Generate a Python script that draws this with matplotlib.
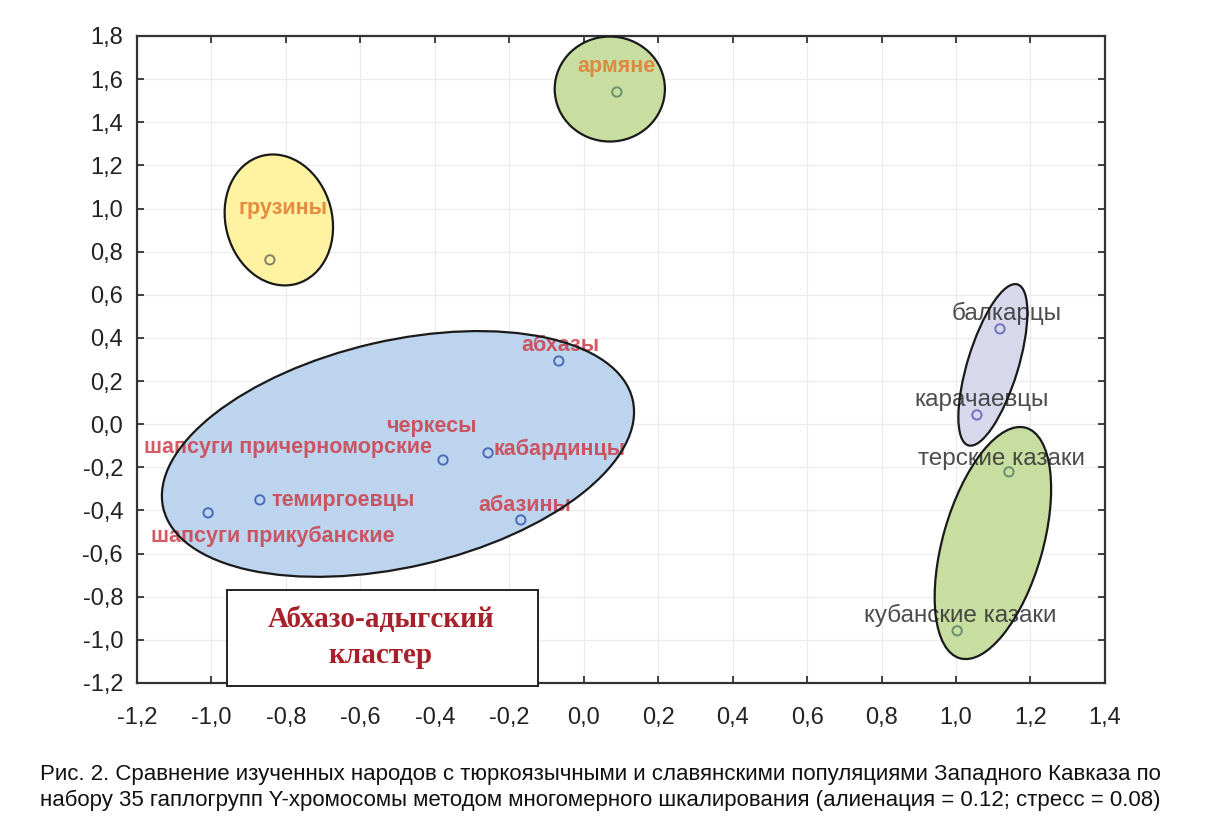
import matplotlib.pyplot as plt
from matplotlib.patches import Ellipse, Rectangle
from matplotlib.transforms import Affine2D
from matplotlib.ticker import FuncFormatter
import numpy as np

plt.rcParams['font.family'] = ['Liberation Sans', 'DejaVu Sans']

# MDS coordinates
names = ['армяне', 'грузины', 'абхазы', 'черкесы', 'кабардинцы', 'шапсуги причерноморские',
         'темиргоевцы', 'шапсуги прикубанские', 'абазины',
         'балкарцы', 'карачаевцы', 'терские казаки', 'кубанские казаки']
x_vals = [0.089, -0.843, -0.067, -0.378, -0.257, -0.378, -0.870, -1.009, -0.169, 1.118, 1.056, 1.142, 1.003]
y_vals = [1.540, 0.762, 0.293, -0.166, -0.133, -0.166, -0.351, -0.411, -0.444, 0.442, 0.043, -0.221, -0.958]
# шапсуги причерноморские shares the черкесы point position for its label anchor
point_idx = [0, 1, 2, 3, 4, 6, 7, 8, 9, 10, 11, 12]

x_ticks = np.round(np.arange(-1.2, 1.41, 0.2), 1)
y_ticks = np.round(np.arange(-1.2, 1.81, 0.2), 1)

caption = ('Рис. 2. Сравнение изученных народов с тюркоязычными и славянскими популяциями Западного Кавказа по\n'
           'набору 35 гаплогрупп Y-хромосомы методом многомерного шкалирования (алиенация = 0.12; стресс = 0.08)')

RED = '#cc3f4a'
ORANGE = '#e07a30'
DARK = '#2e2e2e'

# label style: (dx, dy in data, ha, colour, weight, size)
label_style = {
    'армяне': (0.0, 0.12, 'center', ORANGE, 'bold', 15.5),
    'грузины': (0.035, 0.24, 'center', ORANGE, 'bold', 15.5),
    'абхазы': (0.005, 0.07, 'center', RED, 'bold', 15.5),
    'черкесы': (-0.03, 0.155, 'center', RED, 'bold', 15.5),
    'кабардинцы': (0.015, 0.014, 'left', RED, 'bold', 15.5),
    'шапсуги причерноморские': (-0.03, 0.056, 'right', RED, 'bold', 15.5),
    'темиргоевцы': (0.03, -0.004, 'left', RED, 'bold', 15.5),
    'шапсуги прикубанские': (0.174, -0.107, 'center', RED, 'bold', 15.5),
    'абазины': (0.012, 0.065, 'center', RED, 'bold', 15.5),
    'балкарцы': (0.018, 0.07, 'center', DARK, 'normal', 17.5),
    'карачаевцы': (0.012, 0.07, 'center', DARK, 'normal', 17.5),
    'терские казаки': (-0.021, 0.06, 'center', DARK, 'normal', 17.5),
    'кубанские казаки': (0.008, 0.07, 'center', DARK, 'normal', 17.5),
}
marker_edge = ['#6a9070', '#808070', '#4a6cb8', '#4a6cb8', '#4a6cb8', '#4a6cb8', '#4a6cb8', '#4a6cb8',
               '#4a6cb8', '#7070c0', '#7070c0', '#6a9070', '#6a9070']

# cluster outlines: centre (data), semi-axes in x-units, angle in screen degrees
ellipses = [
    ((-0.499, -0.138), 0.647, 0.304, 13, '#bcd4ee'),
    ((-0.819, 0.947), 0.178, 0.143, 105, '#fff2a0'),
    ((0.070, 1.554), 0.148, 0.141, 0, '#c8dea0'),
    ((1.099, 0.275), 0.226, 0.068, 73, '#d8d8ec'),
    ((1.099, -0.551), 0.322, 0.134, 74, '#c8dea0'),
]

fig = plt.figure(figsize=(12.08, 8.31), dpi=100)
ax = fig.add_axes([0.1134, 0.1781, 0.8013, 0.7786])
ax.set_xlim(-1.2, 1.4)
ax.set_ylim(-1.2, 1.8)

W, H = fig.get_size_inches() * fig.dpi
px = W * 0.8013 / 2.6
py = H * 0.7786 / 3.0
k = px / py
tr = Affine2D().scale(1, k) + ax.transData
for (cx, cy), a, b, ang, col in ellipses:
    ax.add_patch(Ellipse((cx, cy / k), 2 * a, 2 * b, angle=ang, transform=tr,
                         facecolor=col, edgecolor='none', zorder=2))
    ax.add_patch(Ellipse((cx, cy / k), 2 * a, 2 * b, angle=ang, transform=tr,
                         facecolor='none', edgecolor='#1a1a1a', lw=1.6, zorder=5))

for i, n in enumerate(names):
    dx, dy, ha, col, wt, fs = label_style[n]
    ax.text(x_vals[i] + dx, y_vals[i] + dy, n, ha=ha, va='center', color=col, alpha=0.85,
            fontsize=fs, fontweight=wt, zorder=4)

for i in point_idx:
    ax.scatter(x_vals[i], y_vals[i], s=45, facecolor='none', edgecolor=marker_edge[i], lw=1.4, zorder=6)

ax.add_patch(Rectangle((-0.958, -1.214), 0.834, 0.445, facecolor='white', edgecolor='#222222',
                       lw=1.4, zorder=7, clip_on=False))
ax.text(-0.545, -0.99, 'Абхазо-адыгский\nкластер', ha='center', va='center', color='#a8202a',
        fontsize=21, fontweight='bold', family=['Liberation Serif', 'DejaVu Serif'],
        linespacing=1.45, zorder=8)

fmt = FuncFormatter(lambda v, p: f'{round(v, 1) + 0.0:.1f}'.replace('.', ',').replace('-0,0', '0,0'))
ax.set_xticks(x_ticks)
ax.set_yticks(y_ticks)
ax.xaxis.set_major_formatter(fmt)
ax.yaxis.set_major_formatter(fmt)
ax.tick_params(direction='in', length=5, width=1.2, labelsize=17, colors='#222222',
               top=True, right=True)
ax.tick_params(axis='y', pad=10)
ax.tick_params(axis='x', pad=17)
ax.grid(True, color='#ececec', lw=0.9)
ax.set_axisbelow(True)
for s in ax.spines.values():
    s.set_linewidth(1.6)
    s.set_color('#333333')

fig.text(0.033, 0.024, caption, fontsize=16, color='#111111', ha='left', va='bottom', linespacing=1.3)

fig.savefig('out.png', dpi=100)
